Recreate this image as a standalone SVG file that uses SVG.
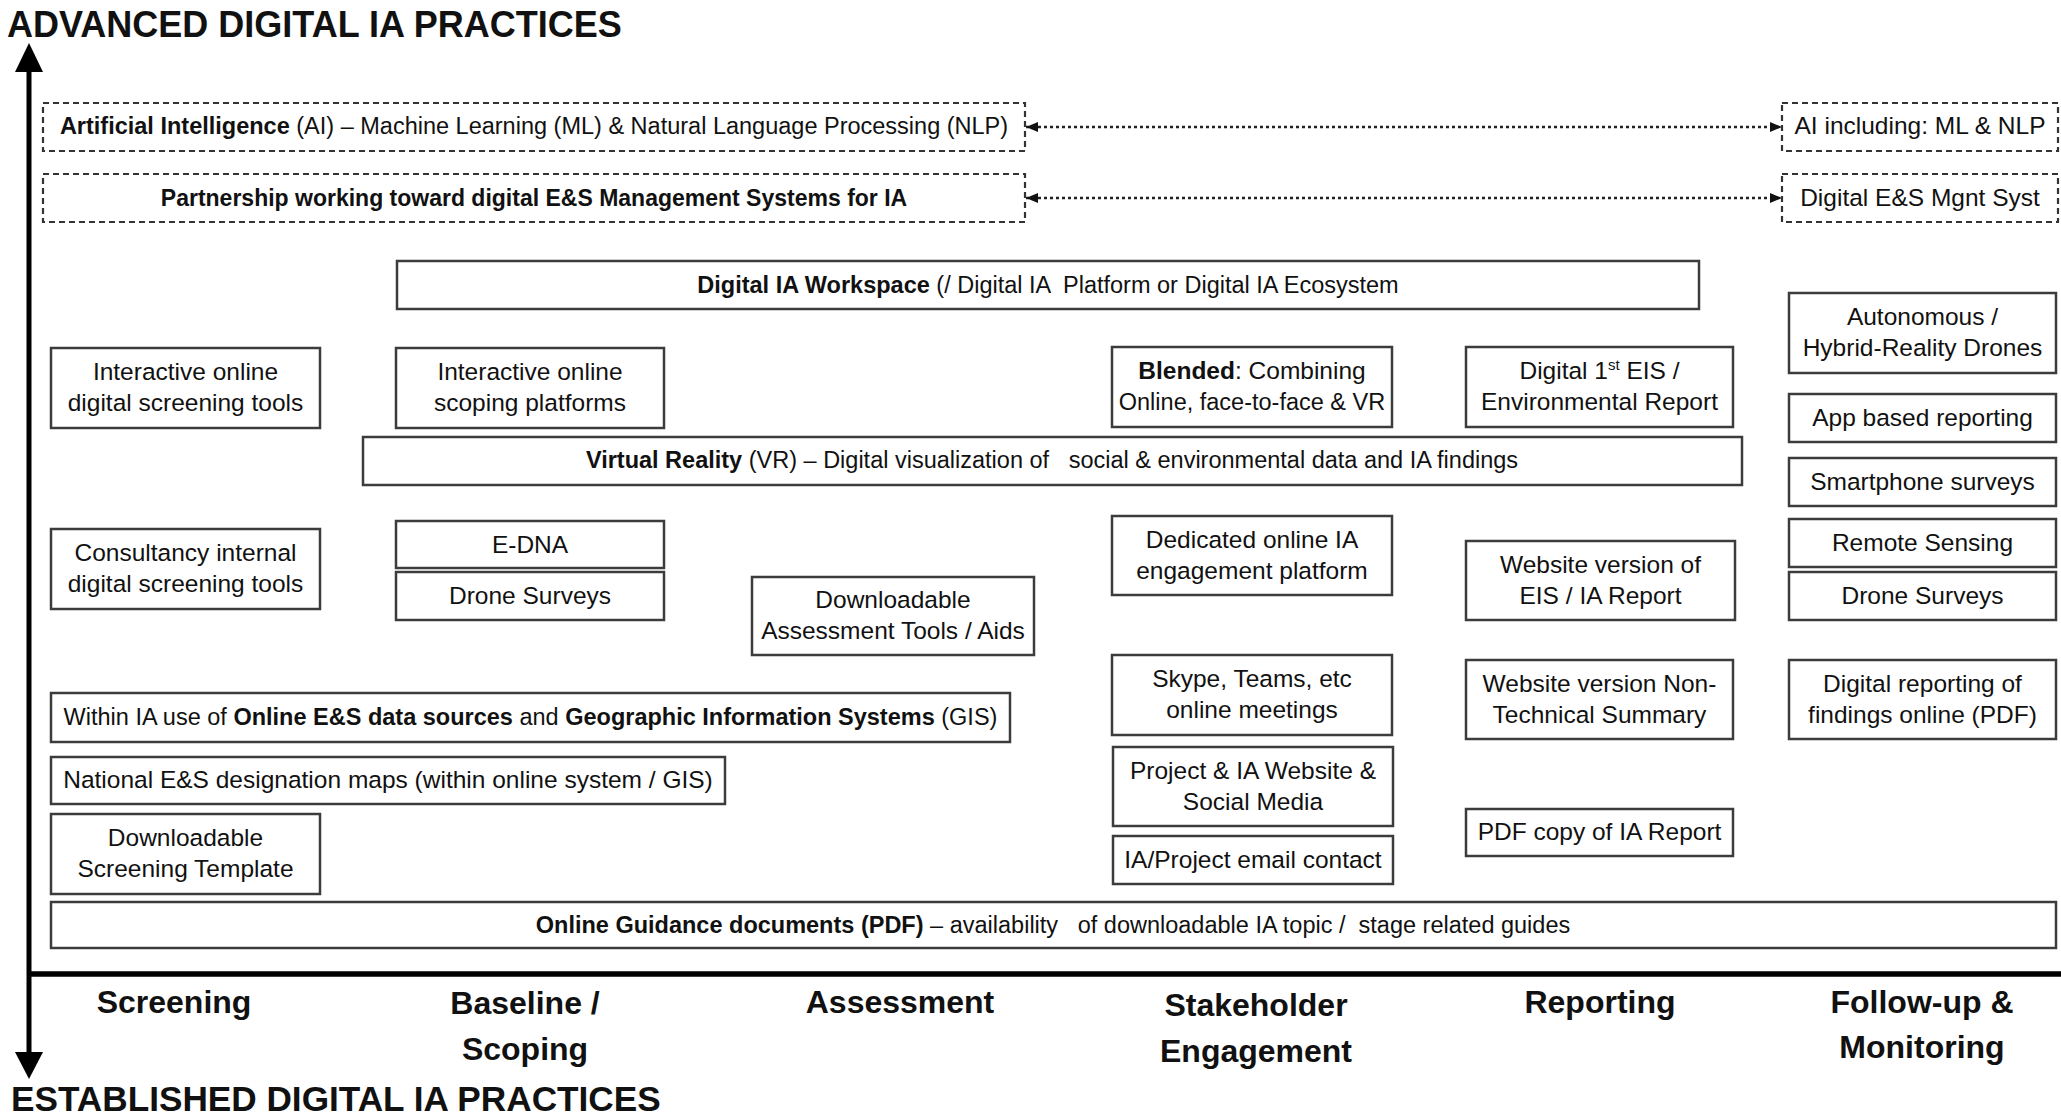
<svg xmlns="http://www.w3.org/2000/svg" width="2061" height="1118" viewBox="0 0 2061 1118">
<style>
  text { font-family: "Liberation Sans", Arial, sans-serif; fill: #111; }
  .t { font-size: 24.5px; text-anchor: middle; }
  .m { font-size: 23.5px; text-anchor: middle; }
  .b { font-weight: bold; }
  .box { fill: #fff; stroke: #3c3c3c; stroke-width: 2.5; }
  .dbox { fill: #fff; stroke: #333; stroke-width: 2.2; stroke-dasharray: 6 4; }
  .title { font-size: 36px; font-weight: bold; }
  .stage { font-size: 32px; font-weight: bold; text-anchor: middle; }
  .dotted { stroke: #222; stroke-width: 2.5; stroke-dasharray: 3 3; fill: none; }
</style>
<defs>
  <marker id="ah" viewBox="0 0 12 10" refX="12" refY="5" markerWidth="12" markerHeight="10" markerUnits="userSpaceOnUse" orient="auto-start-reverse">
    <path d="M0,0 L12,5 L0,10 Z" fill="#111"/>
  </marker>
</defs>
<rect width="2061" height="1118" fill="#fff"/>

<g id="axes">
  <line x1="29" y1="68" x2="29" y2="1056" stroke="#000" stroke-width="5"/>
  <polygon points="29,43 15,72 43,72" fill="#000"/>
  <polygon points="29,1079 15,1052 43,1052" fill="#000"/>
  <line x1="27" y1="974" x2="2061" y2="974" stroke="#000" stroke-width="5.5"/>
  <text class="title" x="7" y="37">ADVANCED DIGITAL IA PRACTICES</text>
  <text class="title" x="11" y="1111" style="font-size:35.2px">ESTABLISHED DIGITAL IA PRACTICES</text>
</g>

<g id="stages">
  <text class="stage" x="174" y="1013">Screening</text>
  <text class="stage" x="525" y="1014">Baseline /</text>
  <text class="stage" x="525" y="1060">Scoping</text>
  <text class="stage" x="900" y="1013">Assessment</text>
  <text class="stage" x="1256" y="1016">Stakeholder</text>
  <text class="stage" x="1256" y="1062">Engagement</text>
  <text class="stage" x="1600" y="1013">Reporting</text>
  <text class="stage" x="1922" y="1013">Follow-up &amp;</text>
  <text class="stage" x="1922" y="1058">Monitoring</text>
</g>

<g id="connectors">
  <line class="dotted" x1="1026" y1="127" x2="1782" y2="127" marker-start="url(#ah)" marker-end="url(#ah)"/>
  <line class="dotted" x1="1026" y1="198" x2="1782" y2="198" marker-start="url(#ah)" marker-end="url(#ah)"/>
</g>

<g id="n-ai">
  <rect class="dbox" x="43" y="103" width="982" height="48"/>
  <text class="m" x="534" y="134"><tspan class="b">Artificial Intelligence</tspan> (AI) – Machine Learning (ML) &amp; Natural Language Processing (NLP)</text>
</g>
<g id="n-partnership">
  <rect class="dbox" x="43" y="174" width="982" height="48"/>
  <text class="m b" x="534" y="206" style="font-size:23px">Partnership working toward digital E&amp;S Management Systems for IA</text>
</g>
<g id="n-ai-right">
  <rect class="dbox" x="1782" y="103" width="276" height="48"/>
  <text class="t" x="1920" y="134">AI including: ML &amp; NLP</text>
</g>
<g id="n-esms-right">
  <rect class="dbox" x="1782" y="174" width="276" height="48"/>
  <text class="t" x="1920" y="206">Digital E&amp;S Mgnt Syst</text>
</g>

<g id="n-workspace">
  <rect class="box" x="397" y="261" width="1302" height="48"/>
  <text class="m" x="1048" y="293" xml:space="preserve"><tspan class="b">Digital IA Workspace</tspan> (/ Digital IA  Platform or Digital IA Ecosystem</text>
</g>

<g id="n-screen-tools">
  <rect class="box" x="51" y="348" width="269" height="80"/>
  <text class="t" x="185.5" y="380">Interactive online</text>
  <text class="t" x="185.5" y="411">digital screening tools</text>
</g>
<g id="n-scoping">
  <rect class="box" x="396" y="348" width="268" height="80"/>
  <text class="t" x="530" y="380">Interactive online</text>
  <text class="t" x="530" y="411">scoping platforms</text>
</g>
<g id="n-blended">
  <rect class="box" x="1112" y="347" width="280" height="80"/>
  <text class="t" x="1252" y="379"><tspan class="b">Blended</tspan>: Combining</text>
  <text class="t" x="1252" y="410" style="font-size:23.5px">Online, face-to-face &amp; VR</text>
</g>
<g id="n-eis">
  <rect class="box" x="1466" y="347" width="267" height="80"/>
  <text class="t" x="1599.5" y="379">Digital 1<tspan font-size="15" dy="-9">st</tspan><tspan dy="9"> EIS /</tspan></text>
  <text class="t" x="1599.5" y="410">Environmental Report</text>
</g>
<g id="n-drones-auto">
  <rect class="box" x="1789" y="293" width="267" height="80"/>
  <text class="t" x="1922.5" y="325">Autonomous /</text>
  <text class="t" x="1922.5" y="356">Hybrid-Reality Drones</text>
</g>

<g id="n-vr">
  <rect class="box" x="363" y="437" width="1379" height="48"/>
  <text class="m" x="1052" y="468" xml:space="preserve"><tspan class="b">Virtual Reality</tspan> (VR) – Digital visualization of   social &amp; environmental data and IA findings</text>
</g>

<g id="n-app">
  <rect class="box" x="1789" y="394" width="267" height="48"/>
  <text class="t" x="1922.5" y="426">App based reporting</text>
</g>
<g id="n-smartphone">
  <rect class="box" x="1789" y="458" width="267" height="48"/>
  <text class="t" x="1922.5" y="490">Smartphone surveys</text>
</g>

<g id="n-consultancy">
  <rect class="box" x="51" y="529" width="269" height="80"/>
  <text class="t" x="185.5" y="561">Consultancy internal</text>
  <text class="t" x="185.5" y="592">digital screening tools</text>
</g>
<g id="n-edna">
  <rect class="box" x="396" y="521" width="268" height="47"/>
  <text class="t" x="530" y="553">E-DNA</text>
</g>
<g id="n-drone-baseline">
  <rect class="box" x="396" y="572" width="268" height="48"/>
  <text class="t" x="530" y="604">Drone Surveys</text>
</g>
<g id="n-remote">
  <rect class="box" x="1789" y="519" width="267" height="48"/>
  <text class="t" x="1922.5" y="551">Remote Sensing</text>
</g>
<g id="n-drone-fu">
  <rect class="box" x="1789" y="572" width="267" height="48"/>
  <text class="t" x="1922.5" y="604">Drone Surveys</text>
</g>
<g id="n-dedicated">
  <rect class="box" x="1112" y="516" width="280" height="79"/>
  <text class="t" x="1252" y="548">Dedicated online IA</text>
  <text class="t" x="1252" y="579">engagement platform</text>
</g>
<g id="n-website-eis">
  <rect class="box" x="1466" y="541" width="269" height="79"/>
  <text class="t" x="1600.5" y="573">Website version of</text>
  <text class="t" x="1600.5" y="604">EIS / IA Report</text>
</g>
<g id="n-assess-tools">
  <rect class="box" x="752" y="577" width="282" height="78"/>
  <text class="t" x="893" y="608">Downloadable</text>
  <text class="t" x="893" y="639">Assessment Tools / Aids</text>
</g>

<g id="n-within-gis">
  <rect class="box" x="51" y="693" width="959" height="49"/>
  <text class="m" x="530.5" y="725">Within IA use of <tspan class="b">Online E&amp;S data sources</tspan> and <tspan class="b">Geographic Information Systems</tspan> (GIS)</text>
</g>
<g id="n-skype">
  <rect class="box" x="1112" y="655" width="280" height="80"/>
  <text class="t" x="1252" y="687">Skype, Teams, etc</text>
  <text class="t" x="1252" y="718">online meetings</text>
</g>
<g id="n-website-nts">
  <rect class="box" x="1466" y="660" width="267" height="79"/>
  <text class="t" x="1599.5" y="692">Website version Non-</text>
  <text class="t" x="1599.5" y="723">Technical Summary</text>
</g>
<g id="n-digital-reporting">
  <rect class="box" x="1789" y="660" width="267" height="79"/>
  <text class="t" x="1922.5" y="692">Digital reporting of</text>
  <text class="t" x="1922.5" y="723">findings online (PDF)</text>
</g>
<g id="n-national">
  <rect class="box" x="51" y="757" width="674" height="47"/>
  <text class="t" x="388" y="788">National E&amp;S designation maps (within online system / GIS)</text>
</g>
<g id="n-project-web">
  <rect class="box" x="1113" y="747" width="280" height="79"/>
  <text class="t" x="1253" y="779">Project &amp; IA Website &amp;</text>
  <text class="t" x="1253" y="810">Social Media</text>
</g>
<g id="n-pdf-copy">
  <rect class="box" x="1466" y="809" width="267" height="47"/>
  <text class="t" x="1599.5" y="840">PDF copy of IA Report</text>
</g>
<g id="n-screening-template">
  <rect class="box" x="51" y="814" width="269" height="80"/>
  <text class="t" x="185.5" y="846">Downloadable</text>
  <text class="t" x="185.5" y="877">Screening Template</text>
</g>
<g id="n-email">
  <rect class="box" x="1113" y="836" width="280" height="48"/>
  <text class="t" x="1253" y="868">IA/Project email contact</text>
</g>
<g id="n-guidance">
  <rect class="box" x="51" y="902" width="2005" height="46"/>
  <text class="m" x="1053" y="933" xml:space="preserve"><tspan class="b">Online Guidance documents (PDF)</tspan> – availability   of downloadable IA topic /  stage related guides</text>
</g>
</svg>
